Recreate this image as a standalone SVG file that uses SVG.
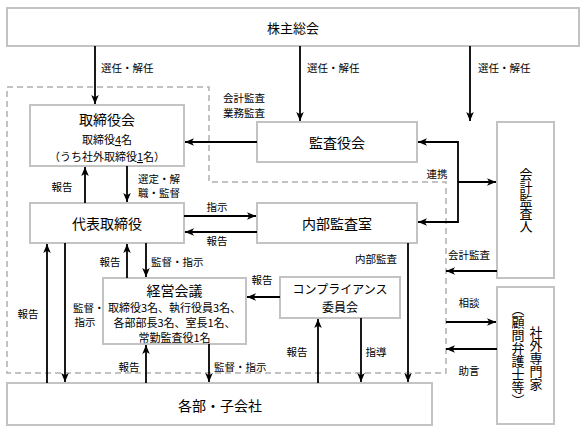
<svg xmlns="http://www.w3.org/2000/svg" width="586" height="431" viewBox="0 0 586 431">
<style>
  .box { fill: #ffffff; stroke: #c3c3c3; stroke-width: 2; }
  .dash { fill: none; stroke: #b0b0b0; stroke-width: 1.5; stroke-dasharray: 6 4; }
  .ln { fill: none; stroke: #000000; stroke-width: 1.8; }
  .arr { marker-end: url(#ah); }
  text { font-family: "Noto Sans CJK JP", "Noto Sans", sans-serif; fill: #000000; }
  .t13 { font-size: 13px; text-anchor: middle; dominant-baseline: central; }
  .t12 { font-size: 12px; text-anchor: middle; dominant-baseline: central; }
  .t14 { font-size: 14px; text-anchor: middle; dominant-baseline: central; }
  .t11 { font-size: 11px; text-anchor: middle; dominant-baseline: central; }
  .lb { font-size: 10.5px; dominant-baseline: central; }
  .lbc { font-size: 10.5px; text-anchor: middle; dominant-baseline: central; }
  .vt { font-size: 13px; writing-mode: vertical-rl; text-anchor: middle; }
</style>
<defs>
  <marker id="ah" viewBox="0 0 10 10" refX="10" refY="5" markerWidth="9" markerHeight="9" markerUnits="userSpaceOnUse" orient="auto">
    <path d="M0,0.8 L10,5 L0,9.2 L2.6,5 Z" fill="#000000"/>
  </marker>
</defs>
<rect width="586" height="431" fill="#ffffff"/>

<path class="dash" d="M7,87 H209 V182 H446 V373 H7 Z"/>

<g id="shareholders">
  <rect class="box" x="7" y="8" width="572" height="38"/>
  <text class="t13" x="293" y="27">株主総会</text>
</g>
<g id="board">
  <rect class="box" x="30" y="105" width="154" height="61"/>
  <text class="t14" x="107" y="119">取締役会</text>
  <text class="t11" x="107" y="139">取締役<tspan text-decoration="underline">4</tspan>名</text>
  <text class="t11" x="107" y="156">（うち社外取締役<tspan text-decoration="underline">1</tspan>名）</text>
</g>
<g id="auditboard">
  <rect class="box" x="257" y="122" width="160" height="40"/>
  <text class="t14" x="337" y="142">監査役会</text>
</g>
<g id="auditor">
  <rect class="box" x="497" y="122" width="57" height="156"/>
  <text class="vt" x="526" y="200">会計監査人</text>
</g>
<g id="ceo">
  <rect class="box" x="30" y="203" width="154" height="40"/>
  <text class="t14" x="107" y="223">代表取締役</text>
</g>
<g id="internalaudit">
  <rect class="box" x="257" y="203" width="160" height="40"/>
  <text class="t14" x="337" y="223">内部監査室</text>
</g>
<g id="mgmt">
  <rect class="box" x="103" y="278" width="143" height="66"/>
  <text class="t14" x="174.5" y="290">経営会議</text>
  <text class="t11" x="174.5" y="307">取締役3名、執行役員3名、</text>
  <text class="t11" x="174.5" y="322">各部部長3名、室長1名、</text>
  <text class="t11" x="174.5" y="337">常勤監査役1名</text>
</g>
<g id="compliance">
  <rect class="box" x="280" y="277" width="120" height="41"/>
  <text class="t12" x="340" y="288.5">コンプライアンス</text>
  <text class="t12" x="340" y="306.5">委員会</text>
</g>
<g id="experts">
  <rect class="box" x="497" y="287" width="57" height="137"/>
  <text class="vt" x="536" y="358">社外専門家</text>
  <text class="vt" x="518" y="355">（顧問弁護士等）</text>
</g>
<g id="departments">
  <rect class="box" x="7" y="383" width="425" height="42"/>
  <text class="t14" x="220" y="405">各部・子会社</text>
</g>

<g id="connectors">
  <path class="ln arr" d="M95,46 V104"/>
  <path class="ln arr" d="M300,46 V121"/>
  <path class="ln arr" d="M470,46 V121"/>
  <path class="ln arr" d="M257,142 H185"/>
  <path class="ln arr" d="M85,203 V167"/>
  <path class="ln arr" d="M127,166 V202"/>
  <path class="ln arr" d="M184,216 H256"/>
  <path class="ln arr" d="M257,232 H185"/>
  <path class="ln arr" d="M458,182 V142 H418"/>
  <path class="ln arr" d="M458,182 V222 H418"/>
  <path class="ln arr" d="M458,182 H496"/>
  <path class="ln arr" d="M127,278 V244"/>
  <path class="ln arr" d="M146,243 V277"/>
  <path class="ln arr" d="M47,383 V244"/>
  <path class="ln arr" d="M65,243 V382"/>
  <path class="ln arr" d="M280,297 H247"/>
  <path class="ln arr" d="M408,243 V382"/>
  <path class="ln arr" d="M318,383 V319"/>
  <path class="ln arr" d="M361,318 V382"/>
  <path class="ln arr" d="M146,383 V345"/>
  <path class="ln arr" d="M209,344 V382"/>
  <path class="ln arr" d="M497,271 H446"/>
  <path class="ln arr" d="M446,322 H496"/>
  <path class="ln arr" d="M497,349 H446"/>
</g>

<g id="labels">
  <text class="lb" x="101" y="67">選任・解任</text>
  <text class="lb" x="307" y="67">選任・解任</text>
  <text class="lb" x="478" y="67">選任・解任</text>
  <text class="lb" x="223" y="97">会計監査</text>
  <text class="lb" x="223" y="112">業務監査</text>
  <text class="lbc" x="62" y="186">報告</text>
  <text class="lb" x="138" y="178">選定・解</text>
  <text class="lb" x="138" y="192">職・監督</text>
  <text class="lbc" x="437" y="173">連携</text>
  <text class="lbc" x="217" y="206">指示</text>
  <text class="lbc" x="217" y="240">報告</text>
  <text class="lbc" x="110" y="261">報告</text>
  <text class="lb" x="151" y="261">監督・指示</text>
  <text class="lbc" x="28" y="313">報告</text>
  <text class="lb" x="73" y="307">監督・</text>
  <text class="lbc" x="85" y="321">指示</text>
  <text class="lbc" x="262" y="279">報告</text>
  <text class="lbc" x="376" y="258">内部監査</text>
  <text class="lbc" x="469" y="254">会計監査</text>
  <text class="lbc" x="469" y="302">相談</text>
  <text class="lbc" x="297" y="351">報告</text>
  <text class="lbc" x="376" y="351">指導</text>
  <text class="lbc" x="469" y="370">助言</text>
  <text class="lbc" x="129" y="366">報告</text>
  <text class="lb" x="214" y="366">監督・指示</text>
</g>
</svg>
